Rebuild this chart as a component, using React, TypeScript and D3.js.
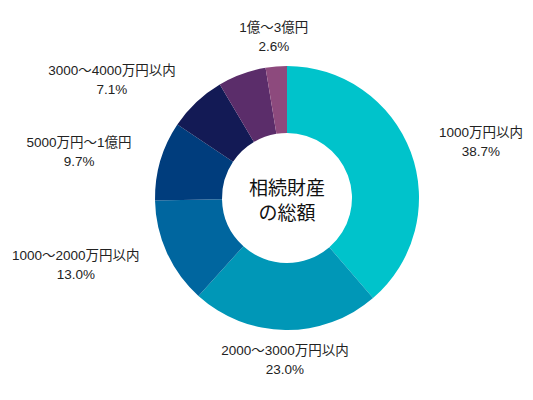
import { useEffect, useRef } from "react"
import * as d3 from "d3"

// slices, clockwise from 12 o'clock (sorted descending)
const categories = [
  "1000万円以内",
  "2000～3000万円以内",
  "1000～2000万円以内",
  "5000万円～1億円",
  "3000～4000万円以内",
  "4000～5000万円以内",
  "1億～3億円",
]
const shares = [38.7, 23.0, 13.0, 9.7, 7.1, 5.9, 2.6]
// the 5.9% slice has no label in the original
const labelled = [true, true, true, true, true, false, true]
const colors = ["#00c3cb", "#0097b7", "#00669f", "#003d7d", "#131a55", "#5b2d6a", "#8d4a7d"]
const centerTitle = ["相続財産", "の総額"]

const W = 533
const H = 400
const FONT = "'Liberation Sans', 'Noto Sans CJK JP', sans-serif"

export default function App() {
  const svgRef = useRef<SVGSVGElement | null>(null)

  useEffect(() => {
    if (!svgRef.current) return
    const root = d3.select(svgRef.current)
    root.selectAll("*").remove()

    const cx = 287
    const cy = 198
    const outer = 132
    const inner = 65
    const labelR = 162

    const g = root.append("g").attr("transform", `translate(${cx},${cy})`)

    const data = categories.map((name, i) => ({ name, value: shares[i], i }))
    const pie = d3
      .pie<any>()
      .value((d) => d.value)
      .sort(null)
    const arcs = pie(data)
    const arc = d3.arc<any>().innerRadius(inner).outerRadius(outer)

    g.selectAll("path")
      .data(arcs)
      .enter()
      .append("path")
      .attr("d", arc)
      .attr("fill", (d) => colors[d.data.i])

    // outside labels: name on top, percentage centred beneath it
    arcs.forEach((a) => {
      if (!labelled[a.data.i]) return
      const mid = (a.startAngle + a.endAngle) / 2
      const dx = Math.sin(mid)
      const dy = -Math.cos(mid)
      const x = dx * labelR
      const y = dy * labelR
      const anchor = Math.abs(dx) < 0.3 ? "middle" : dx > 0 ? "start" : "end"
      const name = g
        .append("text")
        .attr("x", x)
        .attr("y", y - 5)
        .attr("text-anchor", anchor)
        .attr("font-family", FONT)
        .attr("font-size", 13.5)
        .attr("fill", "#222")
        .text(a.data.name)
      const w = (name.node() as SVGTextElement).getComputedTextLength()
      const mx = anchor === "middle" ? x : anchor === "start" ? x + w / 2 : x - w / 2
      g.append("text")
        .attr("x", mx)
        .attr("y", y + 14)
        .attr("text-anchor", "middle")
        .attr("font-family", FONT)
        .attr("font-size", 13.5)
        .attr("fill", "#222")
        .text(d3.format(".1f")(a.data.value) + "%")
    })

    // centre title
    centerTitle.forEach((line, k) => {
      g.append("text")
        .attr("x", 0)
        .attr("y", -3 + k * 25)
        .attr("text-anchor", "middle")
        .attr("font-family", "'Noto Sans CJK JP', sans-serif")
        .attr("font-size", 19)
        .attr("fill", "#111")
        .text(line)
    })
  }, [])

  return (
    <svg
      ref={svgRef}
      width={W}
      height={H}
      style={{ position: "absolute", left: 0, top: 0, background: "#fff" }}
    ></svg>
  )
}
